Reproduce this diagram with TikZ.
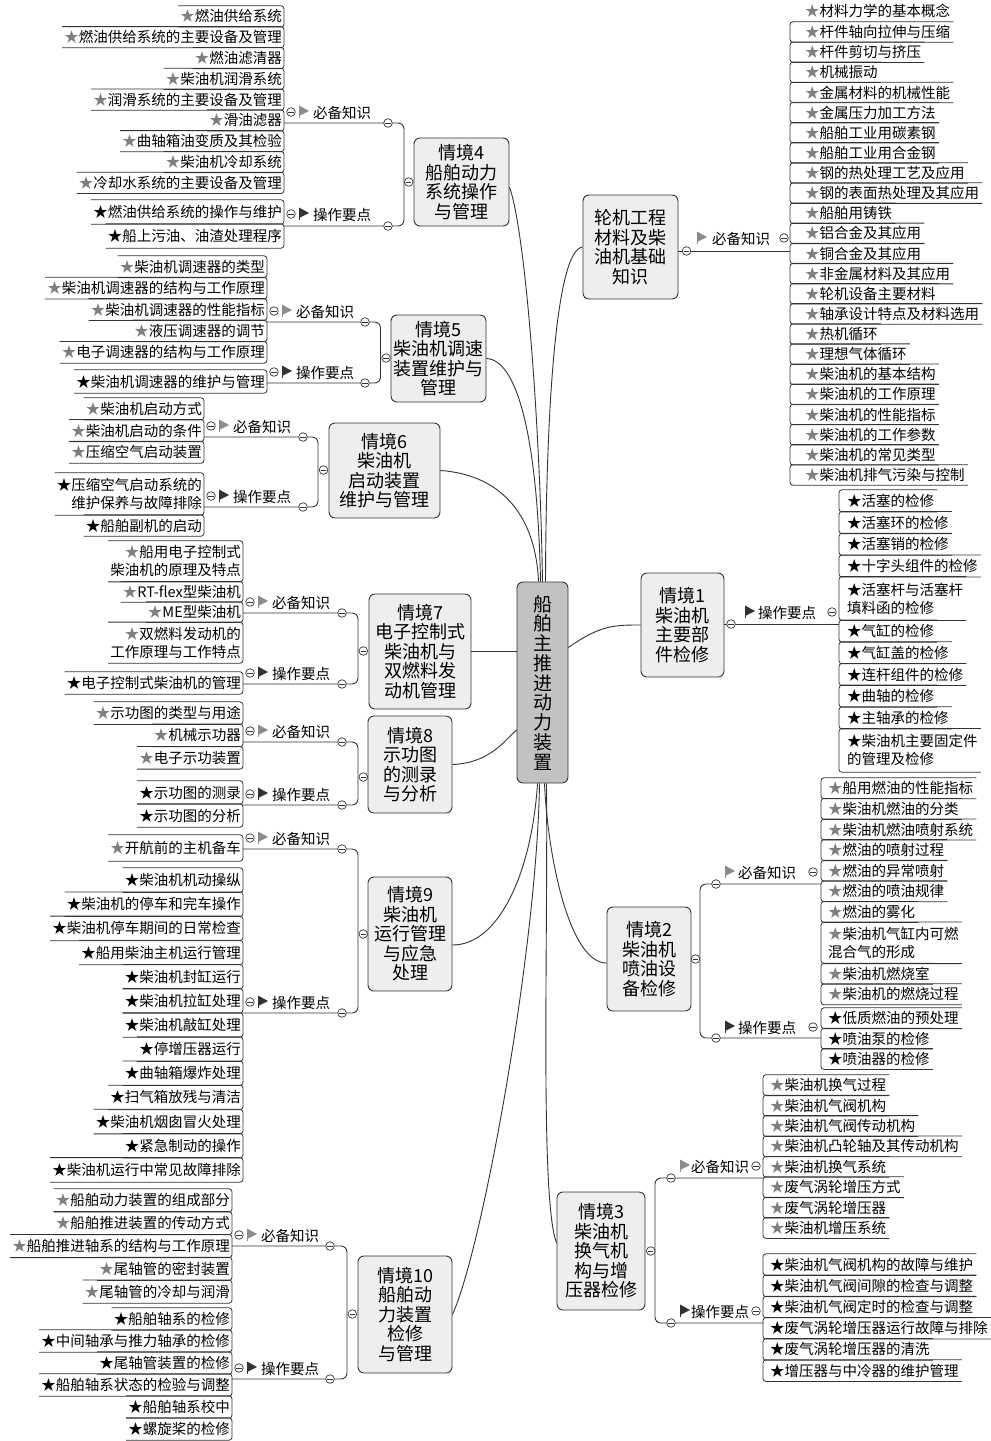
\documentclass[tikz,border=0pt]{standalone}
\usepackage{fontspec}
\setmainfont{Noto Sans CJK SC}
\usetikzlibrary{calc}
\definecolor{linec}{HTML}{333333}
\definecolor{boxfill}{HTML}{EEEEEE}
\definecolor{cenfill}{HTML}{C2C2C2}
\definecolor{stargray}{HTML}{7F7F7F}
\definecolor{flaggray}{HTML}{8C8C8C}
\definecolor{flagdark}{HTML}{333333}
\newcommand\gst{\textcolor{stargray}{★}}
\newcommand\bst{\textcolor{black}{★}}
\newcounter{lf}
\tikzset{
  link/.style={draw=linec, line width=0.9pt},
  leafbox/.style={inner xsep=2pt, inner ysep=0pt, font=\fontsize{14.5}{18}\selectfont},
  leafline/.style={draw=linec, line width=0.8pt, rounded corners=3pt},
  topic/.style={draw=linec, line width=0.9pt, fill=boxfill, rounded corners=6pt, align=center, font=\fontsize{18}{19.5}\selectfont, inner sep=0pt},
  central/.style={draw=linec, line width=0.9pt, fill=cenfill, rounded corners=6pt, align=center, font=\fontsize{19}{19.75}\selectfont, inner sep=0pt},
  lab/.style={font=\fontsize{14.5}{17}\selectfont, inner sep=0pt},
  mcirc/.style={draw=linec, line width=0.7pt, fill=white},
}
\newcommand\mnus[2]{%
  \draw[mcirc] (#1,#2) circle (4.3pt);
  \draw[draw=linec, line width=0.7pt] (#1-2.6,#2) -- (#1+2.6,#2);}
\newcommand\flg[3]{%
  \draw[#3, line width=0.9pt] (#1,#2-6) -- (#1,#2+6);
  \fill[#3] (#1,#2-6.5) -- (#1+10,#2-1) -- (#1,#2+4) -- cycle;}
% left label: name, minus x, y, flag colour, text x, text
\newcommand\labL[6]{%
  \mnus{#2}{#3}\flg{#2+8}{#3}{#4}
  \node[lab, anchor=west] (#1) at (#5,#3+1) {#6};}
% right label: name, flag x, y, flag colour, text x, minus x, text
\newcommand\labR[7]{%
  \flg{#2}{#3}{#4}
  \node[lab, anchor=west] (#1) at (#5,#3+1) {#7};
  \mnus{#6}{#3}}
% bracket between topic and its two branches
\newcommand\brk[5]{%
  \draw[link, rounded corners=6pt] (#1,#3) -- (#2,#3) -- (#2,#4) -- (#1,#4);
  \mnus{#5}{#3}\mnus{#5}{#4}}
% leaves on the left: right x, top y, unit, star, list
\newcommand\leafsL[5]{%
  \xdef\curY{#2}%
  \foreach \lh/\lt in {#5}{%
    \stepcounter{lf}\edef\lfn{lf\arabic{lf}}%
    \pgfmathsetmacro\lfh{\lh*#3}%
    \pgfmathsetmacro\lfm{\curY+\lfh/2}%
    \node[leafbox, align=right, minimum height=\lfh pt, anchor=east] (\lfn) at (#1,\lfm) {#4\lt};
    \draw[leafline] (\lfn.north west) -- (\lfn.north east) -- (\lfn.south east) -- (\lfn.south west);
    \pgfmathsetmacro\lfny{\curY+\lfh}\xdef\curY{\lfny}%
  }}
% leaves on the right: left x, top y, unit, star, pad, list
\newcommand\leafsR[6]{%
  \xdef\curY{#2}%
  \foreach \lh/\lt in {#6}{%
    \stepcounter{lf}\edef\lfn{lf\arabic{lf}}%
    \pgfmathsetmacro\lfh{\lh*#3}%
    \pgfmathsetmacro\lfm{\curY+\lfh/2}%
    \node[leafbox, align=left, inner xsep=3pt, minimum height=\lfh pt, anchor=west] (\lfn) at (#1+#5,\lfm) {#4\lt};
    \draw[leafline] (\lfn.north east) -- ($(\lfn.north west)+(-#5,0)$) -- ($(\lfn.south west)+(-#5,0)$) -- (\lfn.south east);
    \pgfmathsetmacro\lfny{\curY+\lfh}\xdef\curY{\lfny}%
  }}

\begin{document}
\begin{tikzpicture}[x=1pt,y=-1pt]
\fill[white] (0,0) rectangle (991,1441);
\useasboundingbox (0,0) rectangle (991,1441);

% central node
\node[central, minimum width=51pt, minimum height=201pt] (cen) at (542.5,682.5) {船\\舶\\主\\推\\进\\动\\力\\装\\置};

% topic nodes
\node[topic, minimum width=95pt, minimum height=104pt] (c0) at (630.5,247) {轮机工程\\材料及柴\\油机基础\\知识};
\node[topic, minimum width=83pt, minimum height=104pt] (c1) at (682.5,625) {情境1\\柴油机\\主要部\\件检修};
\node[topic, minimum width=84pt, minimum height=104pt] (c2) at (649,959) {情境2\\柴油机\\喷油设\\备检修};
\node[topic, minimum width=88pt, minimum height=118pt] (c3) at (601,1251) {情境3\\柴油机\\换气机\\构与增\\压器检修};
\node[topic, minimum width=95pt, minimum height=88pt] (c4) at (461.5,182) {情境4\\船舶动力\\系统操作\\与管理};
\node[topic, minimum width=95pt, minimum height=87pt] (c5) at (438.5,358.5) {情境5\\柴油机调速\\装置维护与\\管理};
\node[topic, minimum width=111pt, minimum height=95pt] (c6) at (384.5,470.5) {情境6\\柴油机\\启动装置\\维护与管理};
\node[topic, minimum width=102pt, minimum height=115pt] (c7) at (420,651.5) {情境7\\电子控制式\\柴油机与\\双燃料发\\动机管理};
\node[topic, minimum width=84pt, minimum height=97pt] (c8) at (410,764.5) {情境8\\示功图\\的测录\\与分析};
\node[topic, minimum width=84pt, minimum height=114pt] (c9) at (410,934) {情境9\\柴油机\\运行管理\\与应急\\处理};
\node[topic, minimum width=94pt, minimum height=117pt] (c10) at (405,1314.5) {情境10\\船舶动\\力装置\\检修\\与管理};

% connectors from central node
\draw[link] (c0.west) .. controls (555,250) and (546,420) .. ([xshift=3pt]cen.north);
\draw[link] ([yshift=-5pt]c4.east) .. controls (525,230) and (540,420) .. (cen.north);
\draw[link] (c5.east) .. controls (520,360) and (538,450) .. ([xshift=-2pt]cen.north);
\draw[link] (c6.east) .. controls (505,475) and (536,520) .. ([xshift=-4pt]cen.north);
\draw[link] (c7.east) -- (cen.west |- c7.east);
\draw[link] (c8.east) .. controls (490,763) and (505,740) .. ([yshift=-47.5pt]cen.west);
\draw[link] ([yshift=35pt]cen.east) .. controls (600,625) and (615,625) .. (c1.west);
\draw[link] ([yshift=-11pt]c9.east) .. controls (500,945) and (532,870) .. ([xshift=-5pt]cen.south);
\draw[link] (c10.east) .. controls (482,1250) and (537,950) .. ([xshift=-3pt]cen.south);
\draw[link] ([yshift=-4pt]c2.west) .. controls (570,963) and (548,860) .. ([xshift=2pt]cen.south);
\draw[link] ([yshift=8pt]c3.west) .. controls (540,1200) and (548,950) .. ([xshift=4pt]cen.south);

% ---------- 情境4 ----------
\brk{284}{404}{123}{226}{388}
\mnus{408.7}{182}
\labL{k4a}{291}{112}{flaggray}{313}{必备知识}
\labL{k4b}{291}{214}{flagdark}{313}{操作要点}
\leafsL{284}{6}{20.8}{\gst}{1/燃油供给系统,1/燃油供给系统的主要设备及管理,1/燃油滤清器,1/柴油机润滑系统,1/润滑系统的主要设备及管理,1/滑油滤器,1/曲轴箱油变质及其检验,1/柴油机冷却系统,1/冷却水系统的主要设备及管理}
\leafsL{284}{200}{24}{\bst}{1/燃油供给系统的操作与维护,1/船上污油、油渣处理程序}

% ---------- 情境5 ----------
\brk{267}{380.5}{322}{383}{365}
\mnus{386}{358}
\labL{k5a}{274}{311}{flaggray}{296}{必备知识}
\labL{k5b}{274}{372}{flagdark}{296}{操作要点}
\leafsL{267}{256}{21.4}{\gst}{1/柴油机调速器的类型,1/柴油机调速器的结构与工作原理,1/柴油机调速器的性能指标,1/液压调速器的调节,1/电子调速器的结构与工作原理}
\leafsL{267}{370}{23}{\bst}{1/柴油机调速器的维护与管理}

% ---------- 情境6 ----------
\brk{204}{318}{437}{507}{303}
\mnus{323.5}{470}
\labL{k6a}{211}{426}{flaggray}{233}{必备知识}
\labL{k6b}{211}{496}{flagdark}{233}{操作要点}
\leafsL{204}{398}{21.7}{\gst}{1/柴油机启动方式,1/柴油机启动的条件,1/压缩空气启动装置}
\leafsL{204}{473}{21}{\bst}{2/压缩空气启动系统的\\维护保养与故障排除,1/船舶副机的启动}

% ---------- 情境7 ----------
\brk{243}{358}{613}{684}{342}
\mnus{363.3}{651}
\labL{k7a}{250}{602}{flaggray}{272}{必备知识}
\labL{k7b}{250}{673}{flagdark}{272}{操作要点}
\leafsL{243}{541}{20.33}{\gst}{2/船用电子控制式\\柴油机的原理及特点,1/RT-flex型柴油机,1/ME型柴油机,2/双燃料发动机的\\工作原理与工作特点}
\leafsL{243}{672}{22}{\bst}{1/电子控制式柴油机的管理}

% ---------- 情境8 ----------
\brk{243}{358}{742}{805}{342}
\mnus{363.3}{777}
\labL{k8a}{250}{731}{flaggray}{272}{必备知识}
\labL{k8b}{250}{794}{flagdark}{272}{操作要点}
\leafsL{243}{702}{22.3}{\gst}{1/示功图的类型与用途,1/机械示功器,1/电子示功装置}
\leafsL{243}{781}{23}{\bst}{1/示功图的测录,1/示功图的分析}

% ---------- 情境9 ----------
\brk{243}{358}{849}{1013}{342}
\mnus{363.3}{934}
\labL{k9a}{250}{838}{flaggray}{272}{必备知识}
\labL{k9b}{250}{1002}{flagdark}{272}{操作要点}
\leafsL{243}{835}{26}{\gst}{1/开航前的主机备车}
\leafsL{243}{868}{24.15}{\bst}{1/柴油机机动操纵,1/柴油机的停车和完车操作,1/柴油机停车期间的日常检查,1/船用柴油主机运行管理,1/柴油机封缸运行,1/柴油机拉缸处理,1/柴油机敲缸处理,1/停增压器运行,1/曲轴箱爆炸处理,1/扫气箱放残与清洁,1/柴油机烟囱冒火处理,1/紧急制动的操作,1/柴油机运行中常见故障排除}

% ---------- 情境10 ----------
\brk{232}{347}{1246}{1379}{330}
\mnus{352.3}{1314}
\labL{k10a}{239}{1235}{flaggray}{261}{必备知识}
\labL{k10b}{239}{1368}{flagdark}{261}{操作要点}
\leafsL{232}{1189}{22.8}{\gst}{1/船舶动力装置的组成部分,1/船舶推进装置的传动方式,1/船舶推进轴系的结构与工作原理,1/尾轴管的密封装置,1/尾轴管的冷却与润滑}
\leafsL{232}{1308}{22}{\bst}{1/船舶轴系的检修,1/中间轴承与推力轴承的检修,1/尾轴管装置的检修,1/船舶轴系状态的检验与调整,1/船舶轴系校中,1/螺旋桨的检修}

% ---------- 轮机工程材料 ----------
\draw[link] (c0.east |- 0,251) -- (790,251);
\mnus{686.5}{251}
\labR{k0a}{697}{238}{flaggray}{712}{784}{必备知识}
\node[leafbox, anchor=west, inner xsep=3pt] (lf0) at (802,11) {\gst 材料力学的基本概念};
\leafsR{790}{22}{20.13}{\gst}{12}{1/杆件轴向拉伸与压缩,1/杆件剪切与挤压,1/机械振动,1/金属材料的机械性能,1/金属压力加工方法,1/船舶工业用碳素钢,1/船舶工业用合金钢,1/钢的热处理工艺及应用,1/钢的表面热处理及其应用,1/船舶用铸铁,1/铝合金及其应用,1/铜合金及其应用,1/非金属材料及其应用,1/轮机设备主要材料,1/轴承设计特点及材料选用,1/热机循环,1/理想气体循环,1/柴油机的基本结构,1/柴油机的工作原理,1/柴油机的性能指标,1/柴油机的工作参数,1/柴油机的常见类型,1/柴油机排气污染与控制}

% ---------- 情境1 ----------
\draw[link] (c1.east |- 0,624) -- (839,624);
\mnus{731}{624}
\labR{k1a}{745}{612}{flagdark}{758}{832}{操作要点}
\leafsR{839}{490}{21.7}{\bst}{5}{1/活塞的检修,1/活塞环的检修,1/活塞销的检修,1/十字头组件的检修,2/活塞杆与活塞杆\\填料函的检修,1/气缸的检修,1/气缸盖的检修,1/连杆组件的检修,1/曲轴的检修,1/主轴承的检修,2/柴油机主要固定件\\的管理及检修}

% ---------- 情境2 ----------
\brk{821}{700}{884}{1038}{716}
\mnus{695.5}{959}
\labR{k2a}{725}{872}{flaggray}{738}{813}{必备知识}
\labR{k2b}{725}{1027}{flagdark}{738}{813}{操作要点}
\leafsR{821}{778}{20.6}{\gst}{4}{1/船用燃油的性能指标,1/柴油机燃油的分类,1/柴油机燃油喷射系统,1/燃油的喷射过程,1/燃油的异常喷射,1/燃油的喷油规律,1/燃油的雾化,2/柴油机气缸内可燃\\混合气的形成,1/柴油机燃烧室,1/柴油机的燃烧过程}
\leafsR{821}{1008}{20.4}{\bst}{4}{1/低质燃油的预处理,1/喷油泵的检修,1/喷油器的检修}

% ---------- 情境3 ----------
\brk{763}{655}{1178}{1323}{671}
\mnus{650.7}{1251}
\labR{k3a}{680}{1166}{flaggray}{691}{756}{必备知识}
\labR{k3b}{680}{1311}{flagdark}{691}{756}{操作要点}
\leafsR{763}{1075}{20.4}{\gst}{4}{1/柴油机换气过程,1/柴油机气阀机构,1/柴油机气阀传动机构,1/柴油机凸轮轴及其传动机构,1/柴油机换气系统,1/废气涡轮增压方式,1/废气涡轮增压器,1/柴油机增压系统}
\leafsR{763}{1254}{21.2}{\bst}{4}{1/柴油机气阀机构的故障与维护,1/柴油机气阀间隙的检查与调整,1/柴油机气阀定时的检查与调整,1/废气涡轮增压器运行故障与排除,1/废气涡轮增压器的清洗,1/增压器与中冷器的维护管理}
\end{tikzpicture}
\end{document}
